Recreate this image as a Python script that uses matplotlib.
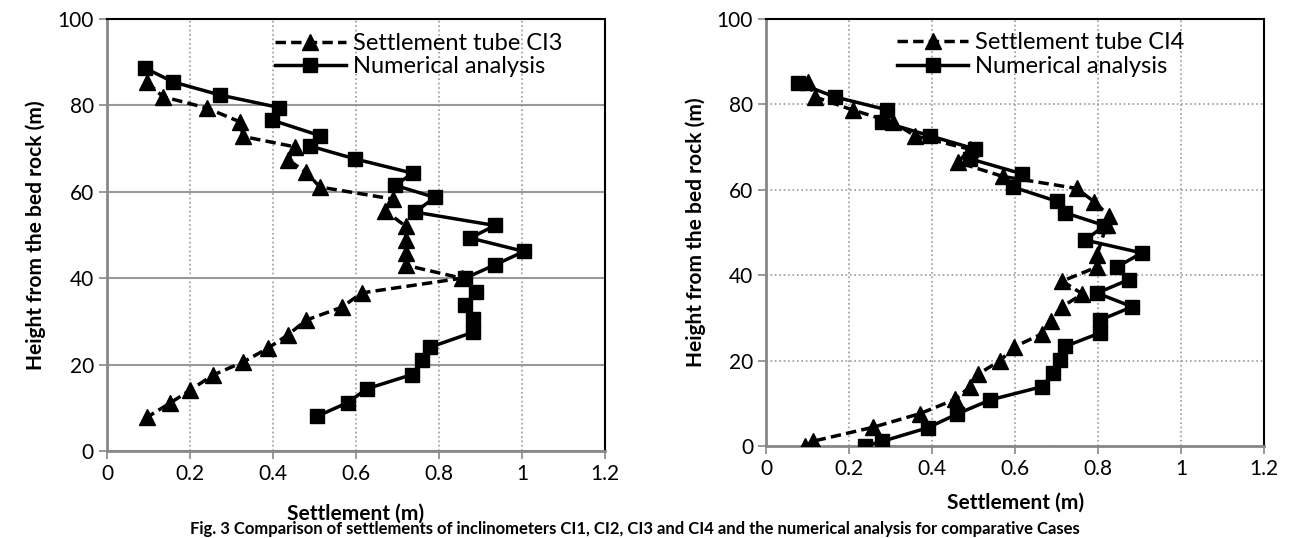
import numpy as np
import matplotlib
matplotlib.use("Agg")
import matplotlib.pyplot as plt

plt.rcParams['font.family'] = ['Lato', 'DejaVu Sans']

# CI3 - settlement tube (triangles), top to bottom
ci3_tube_x = [0.096, 0.135, 0.24, 0.32, 0.328, 0.453, 0.436, 0.48, 0.513, 0.69, 0.67,
              0.72, 0.72, 0.72, 0.72, 0.855, 0.614, 0.566, 0.48, 0.436, 0.388, 0.328,
              0.256, 0.2, 0.152, 0.096]
ci3_tube_y = [85.4, 82.0, 79.4, 76.2, 72.8, 70.4, 67.4, 64.5, 61.1, 58.3, 55.6,
              52.0, 48.9, 45.9, 43.0, 40.0, 36.6, 33.3, 30.3, 26.9, 23.8, 20.6,
              17.6, 14.1, 11.1, 7.8]

# CI3 - numerical analysis (squares)
ci3_num_x = [0.092, 0.16, 0.272, 0.415, 0.397, 0.513, 0.489, 0.598, 0.737, 0.694,
             0.79, 0.742, 0.935, 0.875, 1.005, 0.935, 0.863, 0.888, 0.863, 0.882,
             0.882, 0.778, 0.76, 0.735, 0.626, 0.58, 0.505]
ci3_num_y = [88.6, 85.4, 82.4, 79.5, 76.6, 73.0, 70.6, 67.6, 64.3, 61.5,
             58.7, 55.3, 52.2, 49.3, 46.2, 43.1, 40.0, 36.8, 33.8, 30.5,
             27.5, 24.0, 21.0, 17.7, 14.4, 11.2, 8.0]

# CI4 - settlement tube (triangles)
ci4_tube_x = [0.1, 0.118, 0.21, 0.305, 0.359, 0.49, 0.462, 0.57, 0.748, 0.79, 0.827,
              0.82, 0.797, 0.797, 0.713, 0.762, 0.713, 0.685, 0.665, 0.598, 0.564,
              0.51, 0.49, 0.455, 0.371, 0.258, 0.112, 0.094]
ci4_tube_y = [85.2, 81.7, 78.6, 75.8, 72.6, 69.5, 66.4, 63.1, 60.3, 57.2, 53.8,
              51.8, 44.6, 41.9, 38.6, 35.6, 32.6, 29.3, 26.3, 23.2, 20.0,
              16.8, 13.8, 10.9, 7.6, 4.4, 1.1, 0.0]

# CI4 - numerical analysis (squares)
ci4_num_x = [0.077, 0.166, 0.291, 0.28, 0.395, 0.504, 0.492, 0.617, 0.595, 0.7,
             0.72, 0.815, 0.769, 0.905, 0.845, 0.873, 0.797, 0.882, 0.805, 0.805,
             0.72, 0.708, 0.69, 0.665, 0.54, 0.46, 0.39, 0.28, 0.238]
ci4_num_y = [85.0, 81.7, 78.7, 75.9, 72.6, 69.5, 67.2, 63.7, 60.6, 57.3,
             54.6, 51.6, 48.2, 45.2, 41.9, 38.9, 35.8, 32.6, 29.5, 26.5,
             23.3, 20.2, 17.0, 13.9, 10.8, 7.5, 4.3, 1.1, 0.0]

xticks = [0, 0.2, 0.4, 0.6, 0.8, 1, 1.2]
xticklabels = ['0', '0.2', '0.4', '0.6', '0.8', '1', '1.2']
yticks = [0, 20, 40, 60, 80, 100]

fig = plt.figure(figsize=(12.9, 5.38), dpi=100)
ax1 = fig.add_axes([0.083, 0.1617, 0.386, 0.803])
ax2 = fig.add_axes([0.594, 0.171, 0.386, 0.794])

# axes, data, legend label, horizontal grid style, legend anchor x
panels = [
    (ax1, ci3_tube_x, ci3_tube_y, ci3_num_x, ci3_num_y, 'Settlement tube CI3', '-', 0.337, 14),
    (ax2, ci4_tube_x, ci4_tube_y, ci4_num_x, ci4_num_y, 'Settlement tube CI4', ':', 0.263, 10),
]

for ax, tx, ty, nx, ny, lab, hstyle, lx, lpad in panels:
    ax.plot(tx, ty, color='black', ls=(0, (3, 1.5)), lw=2.5, marker='^', ms=11.5,
            label=lab, zorder=3)
    ax.plot(nx, ny, color='black', ls='-', lw=2.5, marker='s', ms=10,
            label='Numerical analysis', zorder=3)
    ax.set_xlim(0, 1.2)
    ax.set_ylim(0, 100)
    ax.set_xticks(xticks)
    ax.set_xticklabels(xticklabels)
    ax.set_yticks(yticks)
    ax.tick_params(labelsize=15, color='#888888', length=6, width=1.2)
    ax.xaxis.grid(True, color='#999999', ls=':', lw=1.2)
    ax.yaxis.grid(True, color='#999999', ls=hstyle, lw=1.5 if hstyle == '-' else 1.2)
    ax.set_axisbelow(True)
    for s in ['left', 'bottom']:
        ax.spines[s].set_color('#888888')
        ax.spines[s].set_linewidth(2)
    for s in ['top', 'right']:
        ax.spines[s].set_color('black')
        ax.spines[s].set_linewidth(1.5)
    ax.set_xlabel('Settlement (m)', fontsize=15, fontweight='bold', labelpad=lpad)
    ax.set_ylabel('Height from the bed rock (m)', fontsize=15, fontweight='bold', labelpad=8)
    ax.legend(loc='upper left', bbox_to_anchor=(lx, 0.968), frameon=False,
              fontsize=17, handlelength=3.0, handletextpad=0.3, borderaxespad=0,
              borderpad=0, labelspacing=0.1)

fig.text(0.147, 0.001, 'Fig. 3 Comparison of settlements of inclinometers CI1, CI2, CI3 and CI4 '
         'and the numerical analysis for comparative Cases',
         fontsize=12, fontweight='bold', va='bottom', ha='left')

fig.savefig('out.png', dpi=100)
